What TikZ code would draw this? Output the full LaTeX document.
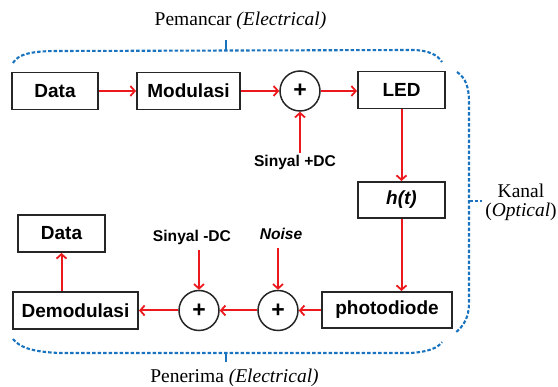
\documentclass[tikz,border=0pt]{standalone}
\usepackage{fontspec}
\setmainfont{Liberation Serif}
\setsansfont{Liberation Sans}
\usetikzlibrary{arrows.meta}
\definecolor{arrred}{RGB}{235,25,30}
\definecolor{brblue}{RGB}{25,115,190}
\tikzset{
  blk/.style={draw=black!85, line width=1.9pt, rectangle, inner sep=0pt, minimum height=37pt,
    font=\sffamily\bfseries\fontsize{19}{22}\selectfont},
  sumnode/.style={draw=black!85, line width=1.5pt, circle, inner sep=0pt, minimum size=40pt,
    font=\sffamily\bfseries\fontsize{23}{24}\selectfont},
  lbl/.style={inner sep=0pt, font=\sffamily\bfseries\fontsize{15.6}{18}\selectfont},
  captxt/.style={inner sep=0pt, font=\fontsize{19.5}{22}\selectfont},
  arr/.style={draw=arrred, line width=2pt, -{Straight Barb[length=4.5pt,width=10pt,line width=1.8pt]}},
  brace/.style={draw=brblue, line width=2.1pt, dash pattern=on 3.5pt off 2pt},
  tick/.style={draw=brblue, line width=2.1pt}
}
\begin{document}
\begin{tikzpicture}[x=1pt,y=-1pt]
\useasboundingbox (0,0) rectangle (558,387);
% top row
\node[blk, minimum width=86pt] (data1) at (55,91) {Data};
\node[blk, minimum width=103pt] (mod) at (188.5,91) {Modulasi};
\node[sumnode] (sum1) at (300,91) {+};
\node[blk, minimum width=87pt] (led) at (401.5,90) {LED};
\node[lbl] (sdc) at (295,162) {Sinyal +DC};
% channel
\node[blk, minimum width=87pt, minimum height=36pt] (ht) at (401.5,200) {\itshape h(t)};
% bottom row
\node[blk, minimum width=130pt, minimum height=36pt] (pd) at (387,310) {photodiode};
\node[sumnode] (sum3) at (278,310.5) {+};
\node[sumnode] (sum2) at (199,310.5) {+};
\node[blk, minimum width=125pt] (demod) at (75.5,310.5) {Demodulasi};
\node[blk, minimum width=87pt] (data2) at (61.5,233.5) {Data};
\node[lbl] (smdc) at (192,237) {Sinyal -DC};
\node[lbl] (noise) at (281,234) {\itshape Noise};
% captions
\node[captxt] (pem) at (240.5,21) {Pemancar \textit{(Electrical)}};
\node[captxt] (pen) at (234.5,378) {Penerima \textit{(Electrical)}};
\node[captxt] (kanal) at (521,191) {Kanal};
\node[captxt] (opt) at (521,212) {(\textit{Optical})};
% connectors
\draw[arr] (data1.east) -- (mod.west);
\draw[arr] (mod.east) -- (sum1.west);
\draw[arr] (sum1.east) -- (sum1.east -| led.west);
\draw[arr] (sum1 |- sdc.north) ++(0,-2) -- (sum1.south);
\draw[arr] (led.south) -- (ht.north);
\draw[arr] (ht.south) -- (ht.south |- pd.north);
\draw[arr] (sum3.east -| pd.west) -- (sum3.east);
\draw[arr] (sum3.west) -- (sum2.east);
\draw[arr] (sum2.west) -- (sum2.west -| demod.east);
\draw[arr] (sum3 |- noise.south) ++(0,8) -- (sum3.north);
\draw[arr] (sum2 |- smdc.south) ++(0,6) -- (sum2.north);
\draw[arr] (demod.north -| data2.south) -- (data2.south);
% brackets
\coordinate (tt) at (226,40);
\coordinate (rt) at (482,201);
\coordinate (bt) at (226,362);
\draw[brace] (13,63) .. controls (18,54) and (32,51) .. (58,51) -- (412,50) .. controls (428,50) and (438,55) .. (442,62);
\draw[tick] (226,50.5) -- (tt);
\draw[brace] (457,72) .. controls (466,78) and (469,88) .. (469,102) -- (469,303) .. controls (469,317) and (464,326) .. (455,333);
\draw[brace] (469,201) -- (rt);
\draw[brace] (13,339) .. controls (20,348) and (34,352) .. (60,353) -- (410,353) .. controls (428,352) and (438,348) .. (442,342);
\draw[tick] (226,353) -- (bt);
\end{tikzpicture}
\end{document}
